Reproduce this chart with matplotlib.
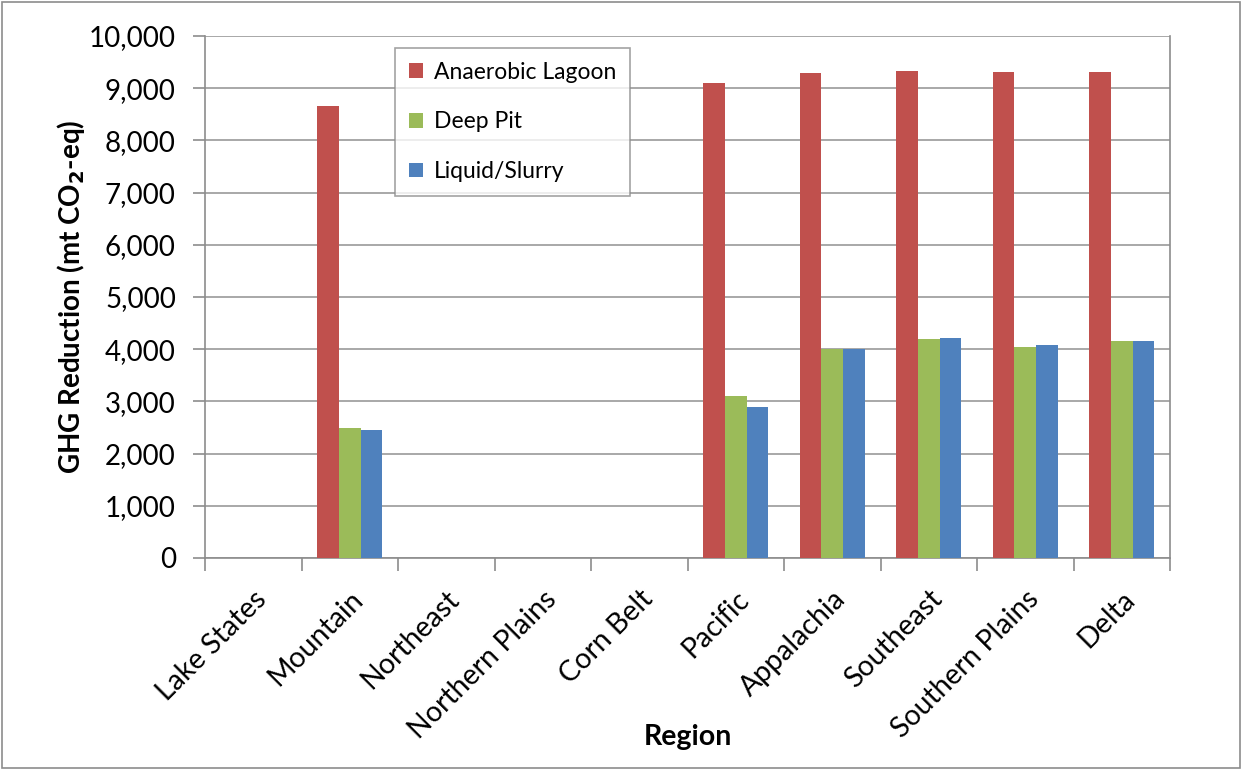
import numpy as np
import matplotlib.pyplot as plt
from matplotlib.ticker import FuncFormatter
from matplotlib.patches import Rectangle

plt.rcParams['font.family'] = ['Lato', 'DejaVu Sans']

regions = ['Lake States', 'Mountain', 'Northeast', 'Northern Plains', 'Corn Belt',
           'Pacific', 'Appalachia', 'Southeast', 'Southern Plains', 'Delta']
lagoon = [0, 8650, 0, 0, 0, 9100, 9285, 9330, 9305, 9305]
deep_pit = [0, 2495, 0, 0, 0, 3105, 4000, 4190, 4045, 4155]
slurry = [0, 2445, 0, 0, 0, 2890, 4000, 4215, 4085, 4155]

series = ['Anaerobic Lagoon', 'Deep Pit', 'Liquid/Slurry']
colors = ['#C0504D', '#9BBB59', '#4F81BD']

fig = plt.figure(figsize=(12.44, 7.7), dpi=100)
ax = fig.add_axes([205 / 1244, 1 - 558 / 770, (1170 - 205) / 1244, (558 - 36) / 770])

x = np.arange(len(regions))
w = 0.223
for i, (vals, name, c) in enumerate(zip([lagoon, deep_pit, slurry], series, colors)):
    ax.bar(x + (i - 1) * w, vals, width=w, color=c, label=name, zorder=3)

ax.set_xlim(-0.5, len(regions) - 0.5)
ax.set_ylim(0, 10000)
ax.set_yticks(np.arange(0, 10001, 1000))
ax.yaxis.set_major_formatter(FuncFormatter(lambda v, p: f'{int(v):,}'))
ax.grid(axis='y', color='#9a9a9a', linewidth=1.2, zorder=0)

# category labels centred, tick marks on category boundaries
ax.set_xticks(x)
ax.set_xticklabels(regions, rotation=45, ha='right', rotation_mode='anchor', fontsize=20.5)
ax.tick_params(axis='x', length=0, pad=20)
ax.set_xticks(np.arange(-0.5, len(regions), 1), minor=True)
ax.tick_params(axis='x', which='minor', length=9, color='#8c8c8c', width=1.2)
ax.tick_params(axis='y', labelsize=20, length=9, color='#8c8c8c', width=1.2, pad=12)

ax.spines['top'].set_visible(False)
for s in ['left', 'bottom', 'right']:
    ax.spines[s].set_color('#8c8c8c')
    ax.spines[s].set_linewidth(1.2)

ax.set_xlabel('Region', fontsize=20.5, fontweight='bold')
ax.xaxis.set_label_coords(0.5, -0.318)
ax.set_ylabel('GHG Reduction (mt CO$_\\mathbf{2}$-eq)', fontsize=20, fontweight='bold')
ax.yaxis.set_label_coords(-0.122, 0.5)

leg = ax.legend(loc='upper left', bbox_to_anchor=((395 - 205) / 965, (558 - 48) / 522),
                fontsize=16.5, frameon=True, fancybox=False, edgecolor='#8c8c8c',
                handlelength=0.6, handleheight=0.6, labelspacing=1.25, borderpad=0.6,
                handletextpad=0.5, borderaxespad=0)
leg.get_frame().set_linewidth(1.2)
leg.set_zorder(5)

fig.patches.append(Rectangle((0.002, 0.003), 0.995, 0.994, transform=fig.transFigure,
                             fill=False, edgecolor='#8c8c8c', linewidth=1.2))

fig.savefig('out.png', dpi=100)
